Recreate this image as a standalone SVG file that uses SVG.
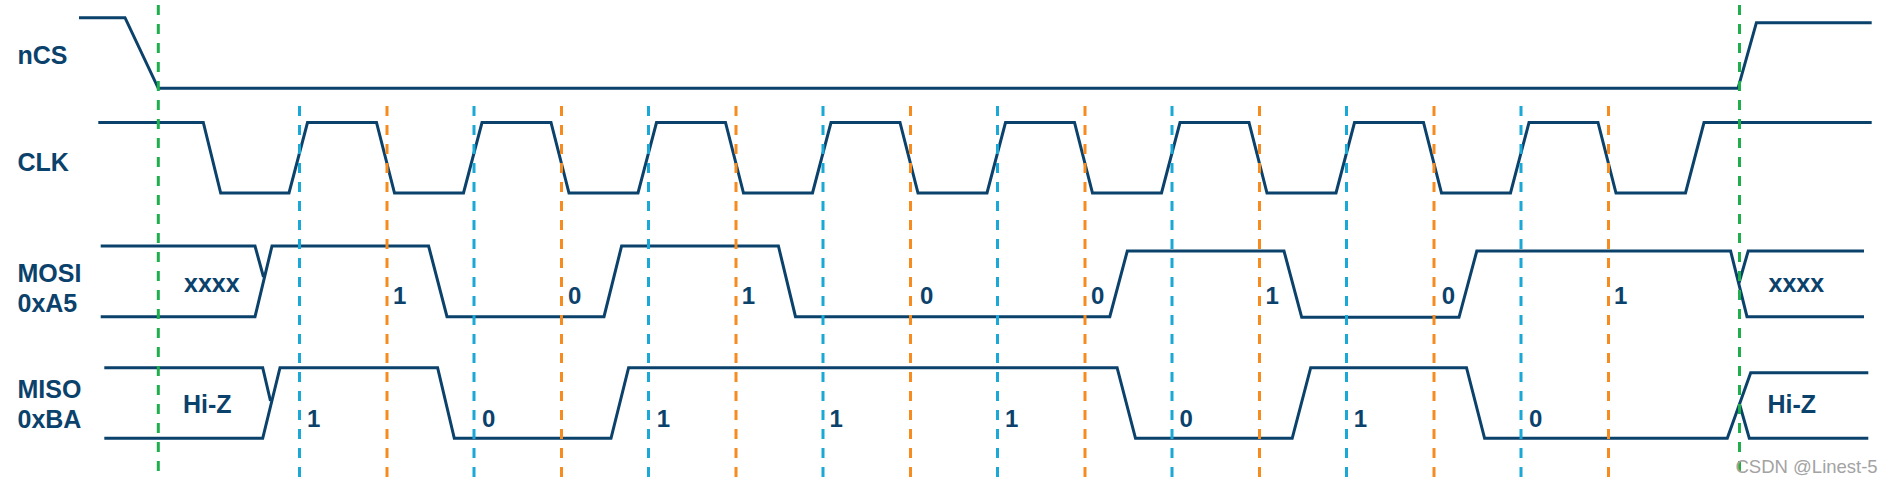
<svg xmlns="http://www.w3.org/2000/svg" width="1893" height="484" viewBox="0 0 1893 484">
<style>
.sig{fill:none;stroke:#0b426c;stroke-width:3;stroke-linejoin:miter;stroke-linecap:butt}
.lbl{font-family:"Liberation Sans",Arial,sans-serif;font-weight:bold;font-size:25px;fill:#0b426c}
.bit{font-family:"Liberation Sans",Arial,sans-serif;font-weight:bold;font-size:24px;fill:#0b426c}
.g{stroke:#1fae4b;stroke-width:3;stroke-dasharray:10 9;fill:none}
.b{stroke:#1aa8d6;stroke-width:3;stroke-dasharray:10 9;fill:none}
.o{stroke:#f68b1f;stroke-width:3;stroke-dasharray:10 9;fill:none}
.wm{font-family:"Liberation Sans",Arial,sans-serif;font-size:18.5px;fill:#a3a3a3}
</style>
<rect width="1893" height="484" fill="#ffffff"/>

<g id="nCS">
<text class="lbl" x="17.5" y="64">nCS</text>
<path class="sig" d="M79,17.7 L125,17.7 L158.3,88.3 L1738,88.3 L1756.4,22.7 L1871.7,22.7"/>
</g>

<g id="CLK">
<text class="lbl" x="17.5" y="170.7">CLK</text>
<path class="sig" d="M98.3,122.5 L203.3,122.5 L220.7,193
L289,193 L307.5,122.5 L376.5,122.5 L394.5,193
L463.5,193 L482,122.5 L551,122.5 L569,193
L638,193 L656.5,122.5 L725.5,122.5 L743.5,193
L812.5,193 L831,122.5 L900,122.5 L918,193
L987,193 L1005.5,122.5 L1074.5,122.5 L1092.5,193
L1161.5,193 L1180,122.5 L1249,122.5 L1267,193
L1336,193 L1354.5,122.5 L1423.5,122.5 L1441.5,193
L1510.5,193 L1529,122.5 L1598,122.5 L1616,193
L1685.5,193 L1704,122.5 L1871.7,122.5"/>
</g>

<g id="MOSI">
<text class="lbl" x="17.5" y="282">MOSI</text>
<text class="lbl" x="17.5" y="311.7">0xA5</text>
<path class="sig" d="M100.7,246 L255,246 L263.5,277"/>
<path class="sig" d="M100.7,316.7 L255,316.7 L272,246 L428.6,246 L447,316.7 L604,316.7 L621.6,246 L778.4,246 L795.5,316.7 L1109.8,316.7 L1127.3,251 L1284,251 L1301.7,317.3 L1459,317.3 L1476.8,251 L1730.6,251 L1747,316.7 L1864,316.7"/>
<path class="sig" d="M1864,251 L1748.2,251 L1739,283"/>
<text class="lbl" x="184" y="291.5">xxxx</text>
<text class="lbl" x="1768.5" y="291.5">xxxx</text>
<text class="bit" x="393" y="304">1</text>
<text class="bit" x="568" y="304">0</text>
<text class="bit" x="741.7" y="304">1</text>
<text class="bit" x="920" y="304">0</text>
<text class="bit" x="1091" y="304">0</text>
<text class="bit" x="1265.6" y="304">1</text>
<text class="bit" x="1441.7" y="304">0</text>
<text class="bit" x="1614" y="304">1</text>
</g>

<g id="MISO">
<text class="lbl" x="17.5" y="397.7">MISO</text>
<text class="lbl" x="17.5" y="428.3">0xBA</text>
<path class="sig" d="M104.3,367.7 L262.7,367.7 L270.5,401"/>
<path class="sig" d="M104.3,438.3 L262.7,438.3 L280,367.7 L437.6,367.7 L454.3,438.3 L611,438.3 L628.6,367.7 L1117.1,367.7 L1135.5,438.3 L1292.2,438.3 L1310.7,367.7 L1466.5,367.7 L1484.6,438.3 L1727.3,438.3 L1750.7,372.7 L1868.3,372.7"/>
<path class="sig" d="M1739.5,404 L1749.3,438.3 L1868.3,438.3"/>
<text class="lbl" x="183" y="413">Hi-Z</text>
<text class="lbl" x="1767.5" y="412.7">Hi-Z</text>
<text class="bit" x="307" y="426.5">1</text>
<text class="bit" x="482" y="426.5">0</text>
<text class="bit" x="656.8" y="426.5">1</text>
<text class="bit" x="829.4" y="426.5">1</text>
<text class="bit" x="1005" y="426.5">1</text>
<text class="bit" x="1179.4" y="426.5">0</text>
<text class="bit" x="1353.8" y="426.5">1</text>
<text class="bit" x="1529" y="426.5">0</text>
</g>

<g id="connectors">
<line class="g" x1="158.3" y1="5" x2="158.3" y2="477"/>
<line class="g" x1="1739.5" y1="5" x2="1739.5" y2="477"/>
<line class="b" x1="299.5" y1="106" x2="299.5" y2="477"/>
<line class="b" x1="474" y1="106" x2="474" y2="477"/>
<line class="b" x1="648.5" y1="106" x2="648.5" y2="477"/>
<line class="b" x1="823" y1="106" x2="823" y2="477"/>
<line class="b" x1="997.5" y1="106" x2="997.5" y2="477"/>
<line class="b" x1="1172" y1="106" x2="1172" y2="477"/>
<line class="b" x1="1346.5" y1="106" x2="1346.5" y2="477"/>
<line class="b" x1="1521" y1="106" x2="1521" y2="477"/>
<line class="o" x1="387" y1="106" x2="387" y2="477"/>
<line class="o" x1="561.5" y1="106" x2="561.5" y2="477"/>
<line class="o" x1="736" y1="106" x2="736" y2="477"/>
<line class="o" x1="910.5" y1="106" x2="910.5" y2="477"/>
<line class="o" x1="1085" y1="106" x2="1085" y2="477"/>
<line class="o" x1="1259.5" y1="106" x2="1259.5" y2="477"/>
<line class="o" x1="1434" y1="106" x2="1434" y2="477"/>
<line class="o" x1="1608.5" y1="106" x2="1608.5" y2="477"/>
</g>

<text class="wm" x="1735.5" y="473.3">CSDN @Linest-5</text>
</svg>
